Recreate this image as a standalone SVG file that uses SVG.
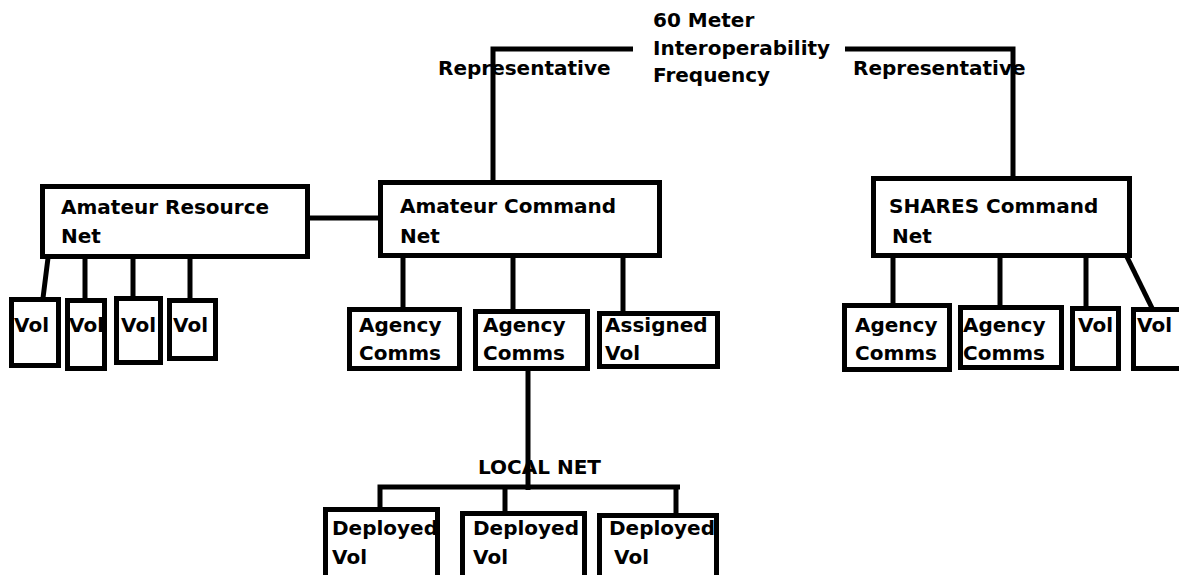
<svg xmlns="http://www.w3.org/2000/svg" width="1179" height="575" viewBox="0 0 1179 575">
<style>
.box{fill:#fff;stroke:#000;stroke-width:5}
.t{font-family:"DejaVu Sans",sans-serif;font-weight:bold;font-size:20px;fill:#000}
.c{fill:none;stroke:#000;stroke-width:5}
</style>
<rect width="1179" height="575" fill="#fff"/>
<g id="labels">
<text class="t" x="653" y="27">60 Meter</text>
<text class="t" x="653" y="55">Interoperability</text>
<text class="t" x="653" y="82">Frequency</text>
<text class="t" x="438" y="75">Representative</text>
<text class="t" x="853" y="75">Representative</text>
<text class="t" x="478" y="474">LOCAL NET</text>
</g>
<g id="amateur-resource"><rect class="box" x="42.5" y="186.5" width="265" height="70"/><text class="t" x="61" y="214">Amateur Resource</text><text class="t" x="61" y="243">Net</text></g>
<g id="amateur-command"><rect class="box" x="380.5" y="182.5" width="279" height="73"/><text class="t" x="400" y="213">Amateur Command</text><text class="t" x="400" y="243">Net</text></g>
<g id="shares-command"><rect class="box" x="873.5" y="178.5" width="256" height="77"/><text class="t" x="889" y="213">SHARES Command</text><text class="t" x="892" y="243">Net</text></g>
<g id="vol1"><rect class="box" x="11.5" y="299.5" width="47" height="66"/><text class="t" x="14" y="332">Vol</text></g>
<g id="vol2"><rect class="box" x="67.5" y="300.5" width="37" height="68"/><text class="t" x="69" y="332">Vol</text></g>
<g id="vol3"><rect class="box" x="116.5" y="298.5" width="44" height="64"/><text class="t" x="121" y="332">Vol</text></g>
<g id="vol4"><rect class="box" x="169.5" y="300.5" width="46" height="58"/><text class="t" x="173" y="332">Vol</text></g>
<g id="agency1"><rect class="box" x="349.5" y="309.5" width="110" height="59"/><text class="t" x="359" y="332">Agency</text><text class="t" x="359" y="360">Comms</text></g>
<g id="agency2"><rect class="box" x="475.5" y="311.5" width="112" height="57"/><text class="t" x="483" y="332">Agency</text><text class="t" x="483" y="360">Comms</text></g>
<g id="assigned-vol"><rect class="box" x="599.5" y="313.5" width="118" height="53"/><text class="t" x="605" y="332">Assigned</text><text class="t" x="605" y="360">Vol</text></g>
<g id="shares-agency1"><rect class="box" x="844.5" y="305.5" width="105" height="64"/><text class="t" x="855" y="332">Agency</text><text class="t" x="855" y="360">Comms</text></g>
<g id="shares-agency2"><rect class="box" x="960.5" y="307.5" width="101" height="60"/><text class="t" x="963" y="332">Agency</text><text class="t" x="963" y="360">Comms</text></g>
<g id="shares-vol1"><rect class="box" x="1072.5" y="308.5" width="46" height="60"/><text class="t" x="1078" y="332">Vol</text></g>
<g id="shares-vol2"><rect class="box" x="1133.5" y="309.5" width="60" height="59"/><text class="t" x="1137" y="332">Vol</text></g>
<g id="deployed1"><rect class="box" x="325.5" y="509.5" width="112" height="80"/><text class="t" x="332" y="535">Deployed</text><text class="t" x="332" y="564">Vol</text></g>
<g id="deployed2"><rect class="box" x="462.5" y="513.5" width="122" height="80"/><text class="t" x="473" y="535">Deployed</text><text class="t" x="473" y="564">Vol</text></g>
<g id="deployed3"><rect class="box" x="599.5" y="515.5" width="117" height="80"/><text class="t" x="609" y="535">Deployed</text><text class="t" x="614" y="564">Vol</text></g>
<g id="connectors">
<path class="c" d="M493,181 V49 H633"/>
<path class="c" d="M845,49 H1013 V177"/>
<path class="c" d="M310,218 H379"/>
<path class="c" d="M48,258 L43,298"/>
<path class="c" d="M85,258 V299"/>
<path class="c" d="M133,258 V297"/>
<path class="c" d="M190,258 V299"/>
<path class="c" d="M403,257 V308"/>
<path class="c" d="M513,257 V310"/>
<path class="c" d="M623,257 V312"/>
<path class="c" d="M893,257 V304"/>
<path class="c" d="M1000,257 V306"/>
<path class="c" d="M1086,257 V307"/>
<path class="c" d="M1127,257 L1152,308"/>
<path class="c" d="M528,370 V490"/>
<path class="c" d="M380,508 V487 H680"/>
<path class="c" d="M505,487 V512"/>
<path class="c" d="M676,487 V514"/>
</g>
</svg>
